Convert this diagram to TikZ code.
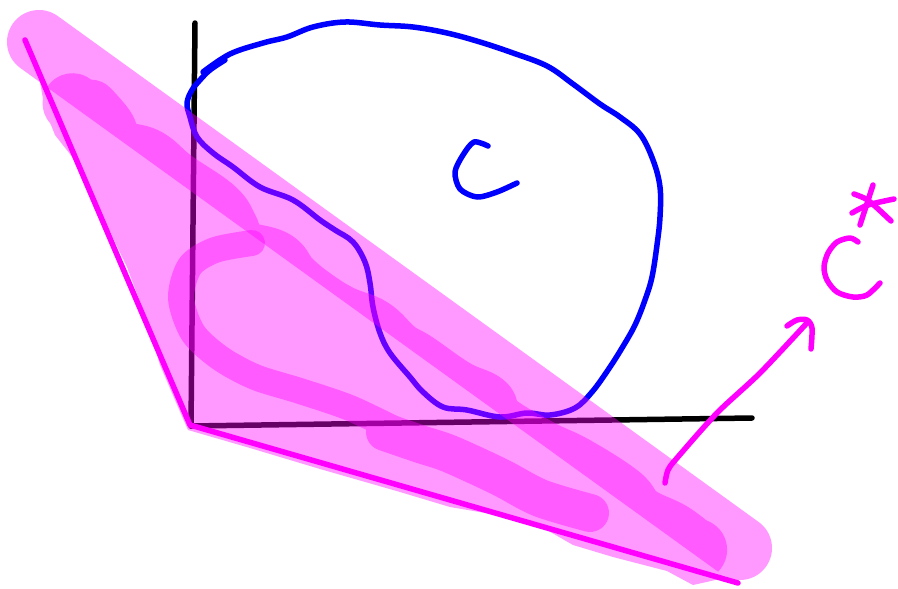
\documentclass[tikz,border=0pt]{standalone}
\usetikzlibrary{calc}
\definecolor{mag}{RGB}{255,0,255}
\definecolor{pblue}{RGB}{0,0,255}
\tikzset{
  ink/.style={line cap=round, line join=round},
  axisline/.style={ink, black, line width=5.5},
  blueline/.style={ink, pblue, line width=5.5},
  magline/.style={ink, mag, line width=5.5},
  brush/.style={ink, mag},
}
\begin{document}
\begin{tikzpicture}[x=1pt, y=-1pt]
\useasboundingbox (0,0) rectangle (898,589);
\fill[white] (0,0) rectangle (898,589);

% axes
\coordinate (top) at (195,23);
\coordinate (O) at (191,426);
\coordinate (right) at (752,418);
\draw[axisline] (top) -- (O);
\draw[axisline] (O) -- (right);

% blue closed curve
\draw[blueline] plot[smooth, tension=0.6] coordinates {
 (203,72) (230,54) (263,43) (287,37) (313,27) (345,22) (380,25) (413,27)
 (447,33) (480,42) (513,53) (547,66) (573,84) (600,104) (620,117) (640,134)
 (653,160) (660,187) (660,217) (657,245) (652,277) (645,300) (635,325)
 (622,348) (608,370) (592,392) (575,408) (550,415) (527,413) (500,417)
 (467,410) (443,407) (423,392) (410,377) (390,353) (380,333) (373,307)
 (370,283) (365,262) (353,242) (335,230) (320,220) (293,200) (260,187)
 (233,167) (213,153) (197,137) (190,117) (187,103) (192,90) (200,80)
 (210,70) (225,60)};
% blue C
\draw[blueline] plot[smooth] coordinates {
 (488,146) (474,142) (463,155) (455,172) (460,189) (477,197) (497,192) (517,183)};

% translucent band
\draw[brush, opacity=0.4, line width=64] (39,42) -- (740,548);

% translucent fill and upper arm (one layer)
\begin{scope}[transparency group, opacity=0.4]
  \begin{scope}
    \clip (-100,-18.9) -- (1000,775.2) -- (-100,775.2) -- cycle;
    \fill[mag] (30,20) -- (40,82) -- (45,110) -- (55,135) -- (77,163)
      -- (103,217) -- (127,267) -- (147,320) -- (160,365) -- (175,400)
      -- (188,430) -- (250,448) -- (320,469) -- (400,492) -- (450,507)
      -- (497,515) -- (540,526) -- (573,545) -- (613,557) -- (667,571)
      -- (693,585) -- (720,579) -- (740,565) -- (780,560) -- (780,380)
      -- (400,100) -- cycle;
  \end{scope}
  \begin{scope}[shift={(20.27,67.95)}, rotate=-35.83]
    \fill[mag] (63,-2) circle[radius=30];
    \fill[mag] (150,0) circle[radius=29];
    \fill[mag] (215,2) circle[radius=26];
    \fill[mag] (830,-5) circle[radius=31];
    \fill[mag] (790,-2) circle[radius=28];
    \draw[brush, line width=54] plot[smooth, tension=0.7] coordinates {
      (80,-10) (105,-4) (125,6) (155,-4) (190,-2) (240,-3) (265,6) (282,16)
      (318,4) (343,10) (370,12) (403,10) (437,2) (470,6) (493,4) (540,3) (573,-3)
      (593,6) (643,2) (683,-5) (736,-8) (763,-2) (800,-8) (830,-7)};
  \end{scope}
\end{scope}

% second translucent layer: ring and lower arm
\begin{scope}[transparency group, opacity=0.4]
  \draw[brush, line width=26] plot[smooth] coordinates {
    (252,243) (215,250) (190,266) (181,298) (193,333) (220,358) (255,377)
    (300,391) (350,408) (400,432)};
  \draw[brush, line width=38] plot[smooth] coordinates {
    (385,432) (420,444) (450,454) (500,477) (540,498) (590,513)};
\end{scope}

% solid magenta cone lines
\coordinate (L) at (25,40);
\coordinate (V) at (190,425);
\coordinate (R) at (738,583);
\draw[magline] (L) -- (V) -- (R);

% arrow
\draw[magline] plot[smooth] coordinates {
  (665,483) (668,470) (677,458) (717,413) (760,373) (806,324)};
\draw[magline] plot[smooth] coordinates {
  (787,326) (797,320) (807,320) (812,328) (811,349)};

% C*
\draw[magline] plot[smooth] coordinates {
  (858,242) (850,238) (837,242) (828,253) (824,267) (827,280) (837,292)
  (853,297) (867,295) (880,283)};
\draw[magline] (873,185) -- (860,225);
\draw[magline] plot[smooth] coordinates {(854,194) (866,199) (876,207) (891,221)};
\draw[magline] plot[smooth] coordinates {(852,213) (868,205) (894,199)};
\end{tikzpicture}
\end{document}
